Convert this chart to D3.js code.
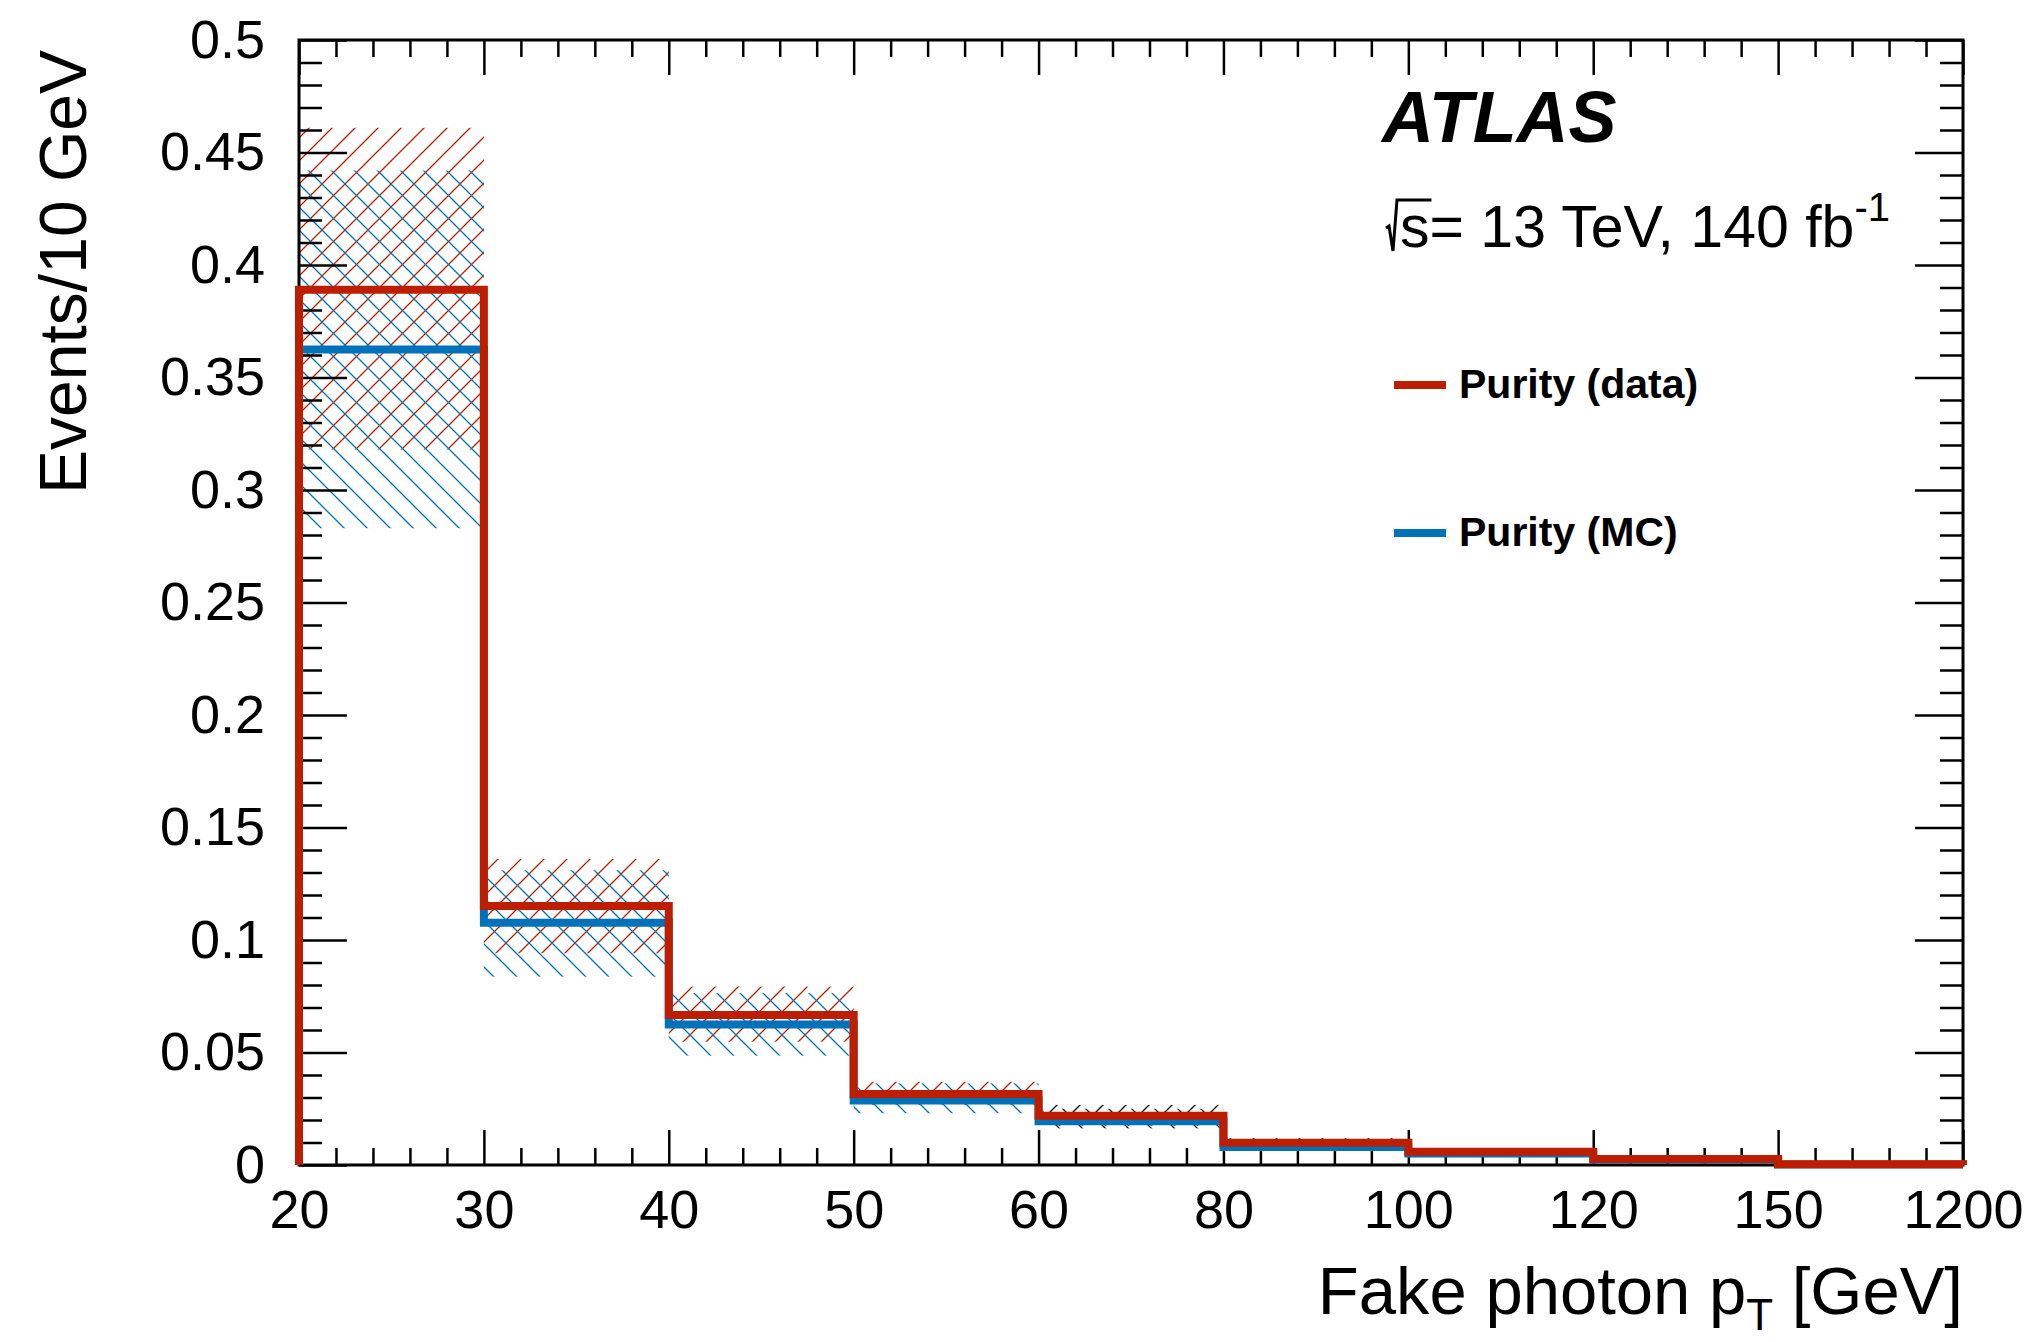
<!DOCTYPE html>
<html>
<head>
<meta charset="utf-8">
<script src="https://cdn.jsdelivr.net/npm/d3@7"></script>
<style>
  html, body { margin: 0; padding: 0; background: #fff; }
  svg { display: block; font-family: 'Liberation Sans', Arial, Helvetica, sans-serif; }
</style>
</head>
<body>
<div id="chart"></div>
<script>
// bin edges of the fake photon pT axis (shown as equal-width bins)
const edgeLabels = ['20', '30', '40', '50', '60', '80', '100', '120', '150', '1200']

// purity per bin
const purityData = [0.389, 0.1151, 0.0667, 0.0316, 0.0219, 0.0099, 0.0059, 0.0027, 0.0003]
const purityMC = [0.3625, 0.1077, 0.0625, 0.0287, 0.0194, 0.0080, 0.0051, 0.0023, 0.0002]

// uncertainty bands
const dataBandLo = [0.318, 0.0941, 0.0548, 0.0267, 0.0175, 0.0080, 0.0048, 0.0018, 0.0001]
const dataBandHi = [0.461, 0.136, 0.0793, 0.0370, 0.0267, 0.0119, 0.0074, 0.0040, 0.0005]
const mcBandLo = [0.283, 0.0837, 0.0486, 0.0230, 0.0163, 0.0074, 0.0044, 0.0016, 0.0001]
const mcBandHi = [0.442, 0.131, 0.0764, 0.0363, 0.0250, 0.0110, 0.0066, 0.0034, 0.0004]

const yTickValues = [0, 0.05, 0.1, 0.15, 0.2, 0.25, 0.3, 0.35, 0.4, 0.45, 0.5]
const yTickLabels = ['0', '0.05', '0.1', '0.15', '0.2', '0.25', '0.3', '0.35', '0.4', '0.45', '0.5']

const legendItems = ['Purity (data)', 'Purity (MC)']

// style
const width = 2038
const height = 1342
const frame = { left: 299, right: 1963, top: 40, bottom: 1165 }
const red = '#be1e00'
const blue = '#0072b9'
const monoBandFrom = 4 // bands drawn in black from this bin on
const hatch = 23

const x = d3.scaleLinear().domain([0, edgeLabels.length - 1]).range([frame.left, frame.right])
const y = d3.scaleLinear().domain([0, 0.5]).range([frame.bottom, frame.top])

const svg = d3.select('#chart').append('svg')
  .attr('width', width)
  .attr('height', height)

const defs = svg.append('defs')

function addHatch(id, color, dir) {
  const p = defs.append('pattern')
    .attr('id', id)
    .attr('patternUnits', 'userSpaceOnUse')
    .attr('width', hatch)
    .attr('height', hatch)
  const h = hatch
  const d = dir === '/'
    ? `M0,${h}L${h},0 M-5,5L5,-5 M${h - 5},${h + 5}L${h + 5},${h - 5}`
    : `M0,0L${h},${h} M-5,${h - 5}L5,${h + 5} M${h - 5},-5L${h + 5},5`
  p.append('path').attr('d', d).attr('stroke', color).attr('stroke-width', 1.3).attr('fill', 'none')
}
addHatch('hatch-red', red, '/')
addHatch('hatch-blue', blue, '\\')
addHatch('hatch-black-f', '#000', '/')
addHatch('hatch-black-b', '#000', '\\')

const bins = purityData.map((d, i) => ({ i, d, mc: purityMC[i] }))

// bands
const bands = svg.append('g').attr('class', 'bands')
function drawBand(lo, hi, colored, mono) {
  bands.selectAll(null)
    .data(bins)
    .enter()
    .append('rect')
    .attr('x', d => x(d.i))
    .attr('width', d => x(d.i + 1) - x(d.i))
    .attr('y', d => y(hi[d.i]))
    .attr('height', d => y(lo[d.i]) - y(hi[d.i]))
    .attr('fill', d => d.i >= monoBandFrom ? `url(#${mono})` : `url(#${colored})`)
}
drawBand(dataBandLo, dataBandHi, 'hatch-red', 'hatch-black-f')
drawBand(mcBandLo, mcBandHi, 'hatch-blue', 'hatch-black-b')

// axes
const majorX = d3.range(edgeLabels.length)
const minorX = d3.range(0, edgeLabels.length - 1, 0.2).filter(v => Math.abs(v - Math.round(v)) > 1e-6)
const minorY = d3.range(0, 0.5001, 0.01).filter(v => Math.abs(v * 20 - Math.round(v * 20)) > 1e-6)

function styleAxis(g) {
  g.select('.domain').remove()
  g.selectAll('line').attr('stroke', '#000').attr('stroke-width', 2.5)
  g.selectAll('text').attr('fill', '#000')
  g.attr('font-family', null).attr('font-size', 54)
}

const xMajor = g => g.call(d3.axisBottom(x).tickValues(majorX).tickSizeInner(-35).tickSizeOuter(0)
  .tickPadding(25).tickFormat(i => edgeLabels[i]))
svg.append('g').attr('transform', `translate(0,${frame.bottom})`).call(xMajor).call(styleAxis)
svg.append('g').attr('transform', `translate(0,${frame.bottom})`)
  .call(d3.axisBottom(x).tickValues(minorX).tickSizeInner(-17).tickSizeOuter(0).tickFormat(''))
  .call(styleAxis)
svg.append('g').attr('transform', `translate(0,${frame.top})`)
  .call(d3.axisTop(x).tickValues(majorX).tickSizeInner(-35).tickSizeOuter(0).tickFormat(''))
  .call(styleAxis)
svg.append('g').attr('transform', `translate(0,${frame.top})`)
  .call(d3.axisTop(x).tickValues(minorX).tickSizeInner(-17).tickSizeOuter(0).tickFormat(''))
  .call(styleAxis)

svg.append('g').attr('transform', `translate(${frame.left},0)`)
  .call(d3.axisLeft(y).tickValues(yTickValues).tickSizeInner(-48).tickSizeOuter(0)
    .tickPadding(34).tickFormat((d, i) => yTickLabels[i]))
  .call(styleAxis)
svg.append('g').attr('transform', `translate(${frame.left},0)`)
  .call(d3.axisLeft(y).tickValues(minorY).tickSizeInner(-23).tickSizeOuter(0).tickFormat(''))
  .call(styleAxis)
svg.append('g').attr('transform', `translate(${frame.right},0)`)
  .call(d3.axisRight(y).tickValues(yTickValues).tickSizeInner(-48).tickSizeOuter(0).tickFormat(''))
  .call(styleAxis)
svg.append('g').attr('transform', `translate(${frame.right},0)`)
  .call(d3.axisRight(y).tickValues(minorY).tickSizeInner(-23).tickSizeOuter(0).tickFormat(''))
  .call(styleAxis)

svg.append('rect')
  .attr('x', frame.left)
  .attr('y', frame.top)
  .attr('width', frame.right - frame.left)
  .attr('height', frame.bottom - frame.top)
  .attr('fill', 'none')
  .attr('stroke', '#000')
  .attr('stroke-width', 3)

// histogram outlines
const step = d3.line()
  .x(d => x(d[0]))
  .y(d => y(d[1]))
  .curve(d3.curveStepAfter)

function outline(values) {
  const pts = [[0, 0]]
  values.forEach((v, i) => pts.push([i, v]))
  pts.push([values.length, 0])
  return pts
}

svg.append('path')
  .attr('d', step(outline(purityMC)))
  .attr('fill', 'none')
  .attr('stroke', blue)
  .attr('stroke-width', 8)
  .attr('stroke-linejoin', 'miter')

svg.append('path')
  .attr('d', step(outline(purityData)))
  .attr('fill', 'none')
  .attr('stroke', red)
  .attr('stroke-width', 8)
  .attr('stroke-linejoin', 'miter')

// axis titles
svg.append('text')
  .attr('transform', 'translate(86,50) rotate(-90)')
  .attr('text-anchor', 'end')
  .attr('font-size', 66)
  .text('Events/10 GeV')

const xt = svg.append('text')
  .attr('x', frame.right)
  .attr('y', 1314)
  .attr('text-anchor', 'end')
  .attr('font-size', 67)
xt.append('tspan').text('Fake photon p')
xt.append('tspan').attr('font-size', 44).attr('dy', 16).text('T')
xt.append('tspan').attr('dy', -16).text(' [GeV]')

// labels
svg.append('text')
  .attr('x', 1382)
  .attr('y', 142)
  .attr('font-size', 72)
  .attr('font-weight', 'bold')
  .attr('font-style', 'italic')
  .text('ATLAS')

const x0 = 1384
const base = 247
const energy = svg.append('text')
  .attr('x', x0 + 16)
  .attr('y', base)
  .attr('font-size', 59)
energy.append('tspan').text('s= 13 TeV, 140 fb')
energy.append('tspan').attr('font-size', 40).attr('dy', -26).text('-1')
const sEnd = energy.node().getEndPositionOfChar(0).x
svg.append('path')
  .attr('d', `M${x0 + 2},${base - 19} L${x0 + 5},${base - 21} L${x0 + 9},${base + 4} L${x0 + 13},${base - 47} L${sEnd + 2},${base - 47}`)
  .attr('fill', 'none')
  .attr('stroke', '#000')
  .attr('stroke-width', 3)

// legend
const legend = svg.append('g')
  .selectAll('g')
  .data(legendItems)
  .enter()
  .append('g')
  .attr('transform', (d, i) => `translate(1394,${385 + i * 148})`)

legend.append('line')
  .attr('x1', 0)
  .attr('x2', 52)
  .attr('stroke', (d, i) => i === 0 ? red : blue)
  .attr('stroke-width', 8)

legend.append('text')
  .attr('x', 65)
  .attr('y', 13)
  .attr('font-size', 41)
  .attr('font-weight', 'bold')
  .text(d => d)
</script>
</body>
</html>
